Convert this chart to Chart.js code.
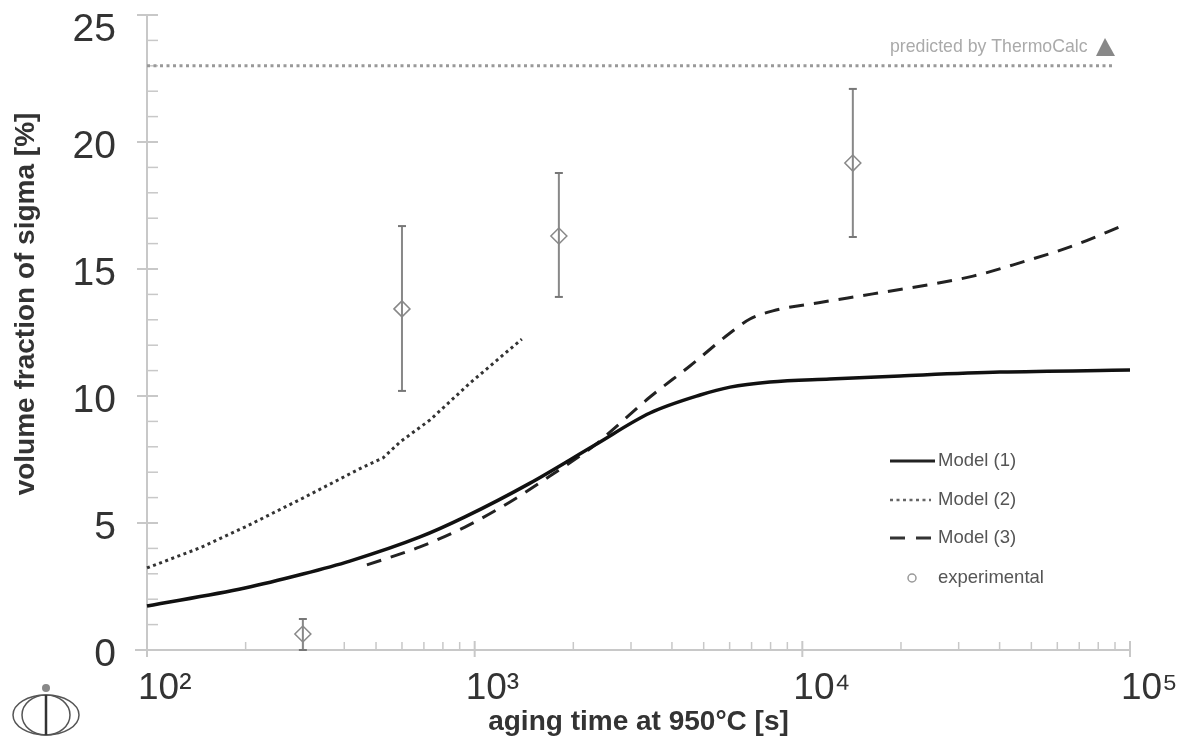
<!DOCTYPE html>
<html>
<head>
<meta charset="utf-8">
<script src="https://cdn.jsdelivr.net/npm/chart.js@4/dist/chart.umd.js"></script>
<style>
  body { margin: 0; background: #fff; }
  canvas { display: block; filter: blur(0.5px); }
</style>
</head>
<body>
<canvas id="myChart" width="1193" height="742"></canvas>
<script>
const xTickValues = [100, 1000, 10000, 100000]
const xTickLabels = ['10²', '10³', '10⁴', '10⁵']
const yTickValues = [0, 5, 10, 15, 20, 25]
const xMinorTicks = [200, 300, 400, 500, 600, 700, 800, 900, 2000, 3000, 4000, 5000, 6000, 7000, 8000, 9000,
    20000, 30000, 40000, 50000, 60000, 70000, 80000, 90000]
const yMinorTicks = [1, 2, 3, 4, 6, 7, 8, 9, 11, 12, 13, 14, 16, 17, 18, 19, 21, 22, 23, 24]

const model1Time = [100, 199, 299, 416, 681, 934, 1476, 2328, 3428, 4875, 6018, 7962, 12130, 19860, 40090, 100000]
const model1Vol = [1.73, 2.44, 2.99, 3.5, 4.45, 5.24, 6.57, 8.07, 9.33, 10.04, 10.35, 10.55, 10.67, 10.79, 10.94, 11.02]
const model2Time = [100, 145, 199, 299, 456, 525, 592, 731, 968, 1393]
const model2Vol = [3.23, 4.02, 4.84, 5.98, 7.2, 7.56, 8.19, 9.06, 10.51, 12.24]
const model3Time = [469, 681, 934, 1282, 1734, 2328, 2588, 3428, 4539, 6018, 6918, 8128, 11560, 16410, 33190, 47100, 65600, 97700]
const model3Vol = [3.35, 4.06, 4.84, 5.83, 6.93, 8.07, 8.58, 9.96, 11.18, 12.48, 13.03, 13.35, 13.7, 14.02, 14.72, 15.28, 15.87, 16.77]
const expTime = [299, 600, 1807, 14260]
const expVol = [0.63, 13.43, 16.3, 19.17]
const expHigh = [1.22, 16.69, 18.78, 22.09]
const expLow = [0, 10.2, 13.9, 16.26]
const thermoTime = [100, 88100]
const thermoVol = [23, 23]

const legendLabels = ['Model (1)', 'Model (2)', 'Model (3)', 'experimental']

const toPoints = (xs, ys) => xs.map((x, i) => ({ x: x, y: ys[i] }))

// error bars are one line dataset, broken up with null points
let errorPoints = []
expTime.forEach((t, i) => {
    errorPoints.push({ x: t, y: expHigh[i] }, { x: t, y: expLow[i] }, { x: t, y: null })
})

// keep the chart area where the original has it, labels may hang over
const noPadding = axis => {
    axis.paddingLeft = 0
    axis.paddingRight = 0
    axis.paddingTop = 0
    axis.paddingBottom = 0
}

const drawExtras = {
    id: 'drawExtras',
    beforeDatasetsDraw(chart) {
        const ctx = chart.ctx
        const xs = chart.scales.x
        const ys = chart.scales.y
        const axisX = xs.getPixelForValue(100)
        const axisY = ys.getPixelForValue(0)
        ctx.save()
        ctx.strokeStyle = '#c8c8c8'
        ctx.lineWidth = 2
        const seg = (x1, y1, x2, y2) => {
            ctx.beginPath()
            ctx.moveTo(x1, y1)
            ctx.lineTo(x2, y2)
            ctx.stroke()
        }
        seg(axisX, ys.getPixelForValue(25), axisX, axisY + 7)
        seg(axisX - 12, axisY, xs.getPixelForValue(100000), axisY)
        yTickValues.forEach(v => {
            seg(axisX - 10, ys.getPixelForValue(v), axisX + 11, ys.getPixelForValue(v))
        })
        xTickValues.forEach(v => {
            seg(xs.getPixelForValue(v), axisY - 9, xs.getPixelForValue(v), axisY + 7)
        })
        ctx.lineWidth = 1.5
        yMinorTicks.forEach(v => {
            seg(axisX, ys.getPixelForValue(v), axisX + 11, ys.getPixelForValue(v))
        })
        xMinorTicks.forEach(v => {
            seg(xs.getPixelForValue(v), axisY - 8, xs.getPixelForValue(v), axisY)
        })
        ctx.restore()
    },
    afterDraw(chart) {
        const ctx = chart.ctx
        ctx.save()

        // y axis title
        ctx.save()
        ctx.translate(26, 304)
        ctx.rotate(-Math.PI / 2)
        ctx.font = 'bold 28px "Liberation Sans"'
        ctx.fillStyle = '#333'
        ctx.textAlign = 'center'
        ctx.textBaseline = 'middle'
        ctx.fillText('volume fraction of sigma [%]', 0, 0)
        ctx.restore()

        // legend
        ctx.textBaseline = 'middle'
        ctx.textAlign = 'left'
        ctx.font = '18.5px "Liberation Sans"'
        ctx.fillStyle = '#555'
        const legendY = [461, 500, 538, 578]
        legendLabels.forEach((label, i) => {
            ctx.fillText(label, 938, legendY[i])
        })
        ctx.strokeStyle = '#222'
        ctx.lineWidth = 3
        ctx.beginPath()
        ctx.moveTo(890, legendY[0])
        ctx.lineTo(935, legendY[0])
        ctx.stroke()
        ctx.strokeStyle = '#666'
        ctx.setLineDash([3, 3.5])
        ctx.lineWidth = 2.5
        ctx.beginPath()
        ctx.moveTo(890, legendY[1])
        ctx.lineTo(931, legendY[1])
        ctx.stroke()
        ctx.strokeStyle = '#333'
        ctx.setLineDash([15, 11])
        ctx.lineWidth = 3
        ctx.beginPath()
        ctx.moveTo(890, legendY[2])
        ctx.lineTo(931, legendY[2])
        ctx.stroke()
        ctx.setLineDash([])
        ctx.strokeStyle = '#999'
        ctx.lineWidth = 1.5
        ctx.beginPath()
        ctx.arc(912, legendY[3], 4, 0, Math.PI * 2)
        ctx.stroke()

        // ThermoCalc note
        ctx.font = '17.7px "Liberation Sans"'
        ctx.fillStyle = '#aaa'
        ctx.fillText('predicted by ThermoCalc', 890, 47)
        ctx.fillStyle = '#888'
        ctx.beginPath()
        ctx.moveTo(1105, 38)
        ctx.lineTo(1115, 56)
        ctx.lineTo(1096, 56)
        ctx.closePath()
        ctx.fill()

        // logo
        ctx.strokeStyle = '#555'
        ctx.lineWidth = 1.5
        ctx.beginPath()
        ctx.ellipse(46, 715, 33, 20, 0, 0, Math.PI * 2)
        ctx.stroke()
        ctx.beginPath()
        ctx.ellipse(46, 715, 24, 20, 0, 0, Math.PI * 2)
        ctx.stroke()
        ctx.lineWidth = 2.5
        ctx.strokeStyle = '#333'
        ctx.beginPath()
        ctx.moveTo(46, 695)
        ctx.lineTo(46, 735)
        ctx.stroke()
        ctx.fillStyle = '#888'
        ctx.beginPath()
        ctx.arc(46, 688, 4, 0, Math.PI * 2)
        ctx.fill()

        ctx.restore()
    }
}

let ctx = document.getElementById('myChart').getContext('2d');
let myChart = new Chart(ctx, {
    type: 'scatter',
    data: {
        datasets: [{
            label: 'Model (1)',
            data: toPoints(model1Time, model1Vol),
            showLine: true,
            cubicInterpolationMode: 'monotone',
            borderColor: '#111',
            borderWidth: 3.5,
            pointRadius: 0
        }, {
            label: 'Model (2)',
            data: toPoints(model2Time, model2Vol),
            showLine: true,
            borderColor: '#333',
            borderWidth: 3,
            borderDash: [3, 3.5],
            pointRadius: 0
        }, {
            label: 'Model (3)',
            data: toPoints(model3Time, model3Vol),
            showLine: true,
            cubicInterpolationMode: 'monotone',
            borderColor: '#222',
            borderWidth: 3,
            borderDash: [15, 10],
            pointRadius: 0
        }, {
            label: 'ThermoCalc',
            data: toPoints(thermoTime, thermoVol),
            showLine: true,
            borderColor: '#999',
            borderWidth: 3,
            borderDash: [3, 3.5],
            pointRadius: 0
        }, {
            label: 'error',
            data: errorPoints,
            showLine: true,
            spanGaps: false,
            borderColor: '#888',
            borderWidth: 2,
            pointStyle: 'line',
            pointRadius: 4,
            pointBorderColor: '#777',
            pointBorderWidth: 2
        }, {
            label: 'experimental',
            data: toPoints(expTime, expVol),
            pointStyle: 'rectRot',
            pointRadius: 8,
            pointBackgroundColor: 'rgba(255,255,255,0.5)',
            pointBorderColor: '#888',
            pointBorderWidth: 1.5
        }]
    },
    plugins: [drawExtras],
    options: {
        responsive: false,
        animation: false,
        clip: false,
        layout: {
            autoPadding: false,
            padding: { left: 0, right: 63, top: 15, bottom: 0 }
        },
        plugins: {
            legend: { display: false },
            tooltip: { enabled: false }
        },
        scales: {
            x: {
                type: 'logarithmic',
                min: 100,
                max: 100000,
                grid: { display: false, drawTicks: false },
                border: { display: false },
                afterBuildTicks: axis => {
                    axis.ticks = xTickValues.map(v => ({ value: v }))
                },
                afterFit: axis => {
                    axis.height = 92
                    noPadding(axis)
                },
                ticks: {
                    autoSkip: false,
                    maxRotation: 0,
                    align: 'start',
                    labelOffset: -9,
                    padding: 17,
                    color: '#333',
                    font: { family: '"Liberation Sans"', size: 37 },
                    callback: (value, index) => xTickLabels[index]
                },
                title: {
                    display: true,
                    text: 'aging time at 950°C [s]',
                    color: '#333',
                    font: { family: '"Liberation Sans"', size: 28, weight: 'bold' },
                    padding: { top: 0, bottom: 3 }
                }
            },
            y: {
                min: 0,
                max: 25,
                grid: { display: false, drawTicks: false },
                border: { display: false },
                afterBuildTicks: axis => {
                    axis.ticks = yTickValues.map(v => ({ value: v }))
                },
                afterFit: axis => {
                    axis.width = 147
                    noPadding(axis)
                },
                ticks: {
                    padding: 31,
                    labelOffset: 5,
                    color: '#333',
                    font: c => ({
                        family: '"Liberation Sans"',
                        size: 39,
                        lineHeight: c.tick && c.tick.value === 25 ? '20px' : 1.2
                    }),
                    // 25 sits lower than its tick in the original
                    callback: value => value === 25 ? ['', '25'] : String(value)
                }
            }
        }
    }
});
</script>
</body>
</html>
